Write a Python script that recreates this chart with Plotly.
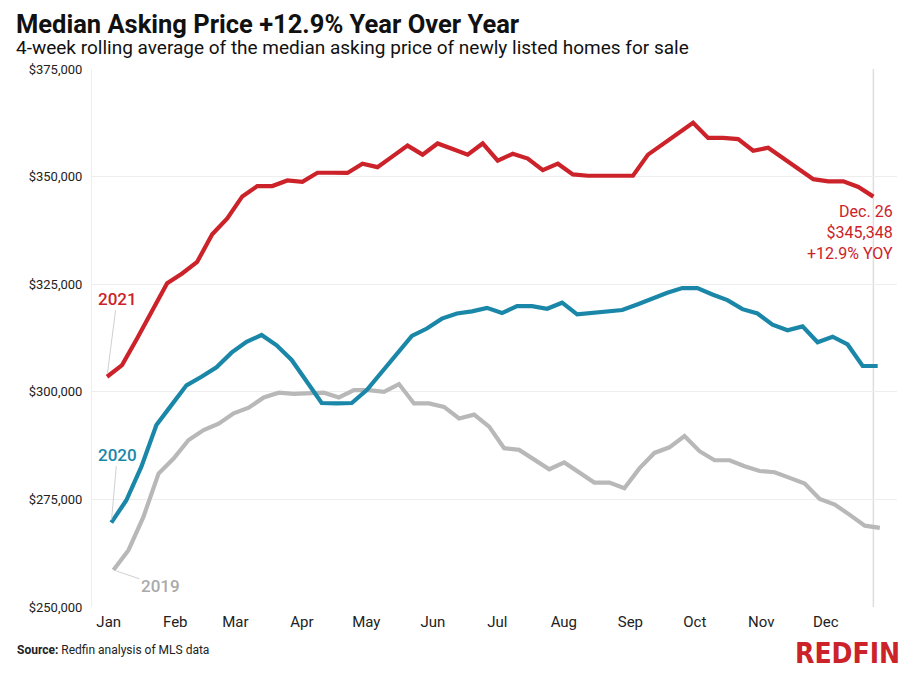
import pandas as pd
import plotly.graph_objects as go

# ---------------- data (thousands of dollars, weekly, 4-week rolling) ----------------
months = ["Jan", "Feb", "Mar", "Apr", "May", "Jun", "Jul", "Aug", "Sep", "Oct", "Nov", "Dec"]
month_starts = pd.date_range("2021-01-01", periods=12, freq="MS")

# week-ending dates, aligned onto a common (2021) calendar
dates_2021 = pd.date_range("2021-01-03", periods=52, freq="7D")
dates_2020 = pd.date_range("2021-01-05", periods=52, freq="7D")
dates_2019 = pd.date_range("2021-01-06", periods=52, freq="7D")

price_2021 = [303.5, 306.2, 312.4, 318.7, 325.2, 327.5, 330.2, 336.6, 340.3, 345.4,
              347.8, 347.8, 349.1, 348.8, 350.9, 350.9, 350.85, 353.0, 352.2, 354.7,
              357.2, 355.1, 357.7, 356.4, 355.1, 357.7, 353.7, 355.3, 354.2, 351.5,
              353.0, 350.5, 350.2, 350.2, 350.2, 350.2, 355.1, 357.6, 360.1, 362.5,
              359.0, 359.0, 358.7, 356.0, 356.7, 354.2, 351.9, 349.4, 348.9, 348.9,
              347.6, 345.348]
price_2020 = [269.6, 274.8, 282.6, 292.3, 296.9, 301.5, 303.5, 305.7, 309.1, 311.6,
              313.2, 310.8, 307.4, 302.3, 297.4, 297.3, 297.4, 300.4, 304.6, 308.9,
              313.0, 314.7, 317.0, 318.2, 318.7, 319.5, 318.3, 319.9, 319.9, 319.3,
              320.7, 318.0, 318.3, 318.7, 319.0, 320.3, 321.7, 323.0, 324.1, 324.1,
              322.6, 321.3, 319.2, 318.2, 315.6, 314.3, 315.2, 311.5, 312.8, 311.0,
              306.0, 306.0]
price_2019 = [258.6, 263.2, 271.0, 281.0, 284.5, 288.8, 291.1, 292.6, 295.0, 296.3,
              298.7, 299.8, 299.5, 299.6, 299.8, 298.7, 300.4, 300.4, 300.0, 301.8,
              297.3, 297.3, 296.5, 293.8, 294.7, 291.9, 286.9, 286.5, 284.3, 282.0,
              283.6, 281.2, 278.9, 278.9, 277.6, 282.2, 285.8, 287.1, 289.7, 286.2,
              284.1, 284.1, 282.7, 281.6, 281.3, 280.0, 278.7, 275.1, 273.8, 271.4,
              268.9, 268.4]

y_ticks = [250000, 275000, 300000, 325000, 350000, 375000]
y_ticktext = ["$250,000", "$275,000", "$300,000", "$325,000", "$350,000", "$375,000"]

RED = "#CC2229"
TEAL = "#1A87A8"
GREY = "#B8B8B8"
FONT = "Roboto"

W, H = 913, 683
ML, MR, MT, MB = 92, 16, 69, 76
PH = H - MT - MB
PW = W - ML - MR


def py(pix):  # pixel row -> paper y
    return (H - MB - pix) / PH


def px(pix):  # pixel col -> paper x
    return (pix - ML) / PW


fig = go.Figure()
for d, v, c in [(dates_2019, price_2019, GREY), (dates_2020, price_2020, TEAL), (dates_2021, price_2021, RED)]:
    fig.add_trace(go.Scatter(x=d, y=[p * 1000 for p in v], mode="lines",
                             line=dict(color=c, width=4.2), hoverinfo="skip", showlegend=False))

# vertical marker at latest week
fig.add_shape(type="line", xref="x", yref="paper", x0=dates_2021[-1], x1=dates_2021[-1],
              y0=0, y1=1, line=dict(color="#DDDDDD", width=1.5), layer="below")

ann = []
# title & subtitle
ann.append(dict(xref="paper", yref="paper", x=px(14), y=py(24), xanchor="left", yanchor="middle",
                text="<b>Median Asking Price +12.9% Year Over Year</b>", showarrow=False,
                font=dict(family=FONT, size=25.5, color="#111111")))
ann.append(dict(xref="paper", yref="paper", x=px(14), y=py(48), xanchor="left", yanchor="middle",
                text="4-week rolling average of the median asking price of newly listed homes for sale",
                showarrow=False, font=dict(family=FONT, size=19, color="#111111")))
# source & logo
ann.append(dict(xref="paper", yref="paper", x=px(15), y=py(650), xanchor="left", yanchor="middle",
                text="<b>Source:</b> Redfin analysis of MLS data", showarrow=False,
                font=dict(family=FONT, size=12, color="#222222")))
ann.append(dict(xref="paper", yref="paper", x=px(902), y=py(653), xanchor="right", yanchor="middle",
                text="<b>REDFIN</b>", showarrow=False,
                font=dict(family="DejaVu Sans Condensed, Liberation Sans Narrow, Roboto", size=28, color=RED)))

# series labels with leader lines
ann.append(dict(x=dates_2021[0], y=price_2021[0] * 1000, text="2021", showarrow=True, arrowhead=0,
                arrowwidth=1, arrowcolor="#D0D0D0", ax=10, ay=-78, standoff=3,
                font=dict(family=FONT, size=17, color=RED, weight=500)))
ann.append(dict(x=dates_2020[0], y=price_2020[0] * 1000, text="2020", showarrow=True, arrowhead=0,
                arrowwidth=1, arrowcolor="#D0D0D0", ax=6, ay=-68, standoff=3,
                font=dict(family=FONT, size=17, color=TEAL, weight=500)))
ann.append(dict(x=dates_2019[0], y=price_2019[0] * 1000, text="2019", showarrow=True, arrowhead=0,
                arrowwidth=1, arrowcolor="#D0D0D0", ax=47, ay=16, standoff=3,
                font=dict(family=FONT, size=17, color="#AAAAAA", weight=500)))

# end label
ann.append(dict(x=dates_2021[-1], y=price_2021[-1] * 1000,
                text="Dec. 26<br>$345,348<br>+12.9% YOY", showarrow=False, align="right",
                xanchor="right", yanchor="top", xshift=22, yshift=-3,
                font=dict(family=FONT, size=16, color=RED)))

fig.update_layout(
    width=W, height=H,
    margin=dict(l=ML, r=MR, t=MT, b=MB, autoexpand=False),
    paper_bgcolor="white", plot_bgcolor="white",
    font=dict(family=FONT, color="#222222"),
    annotations=ann,
    showlegend=False,
    xaxis=dict(type="date", range=["2020-12-27", "2022-01-06"], tickvals=month_starts,
               ticktext=months, showgrid=False, zeroline=False, showline=False,
               ticks="", ticklabelshift=6, ticklabelstandoff=4,
               tickfont=dict(family=FONT, size=15, color="#222222")),
    yaxis=dict(range=[250000, 375000], tickvals=y_ticks, ticktext=y_ticktext,
               showgrid=True, gridcolor="#EEEEEE", gridwidth=1, zeroline=False,
               showline=True, linecolor="#EEEEEE", linewidth=1, ticks="",
               ticklabelstandoff=6, tickfont=dict(family=FONT, size=13, color="#222222")),
)

fig.write_html("out.html", config={"displayModeBar": False},
               post_script="document.body.style.margin='0px';")
